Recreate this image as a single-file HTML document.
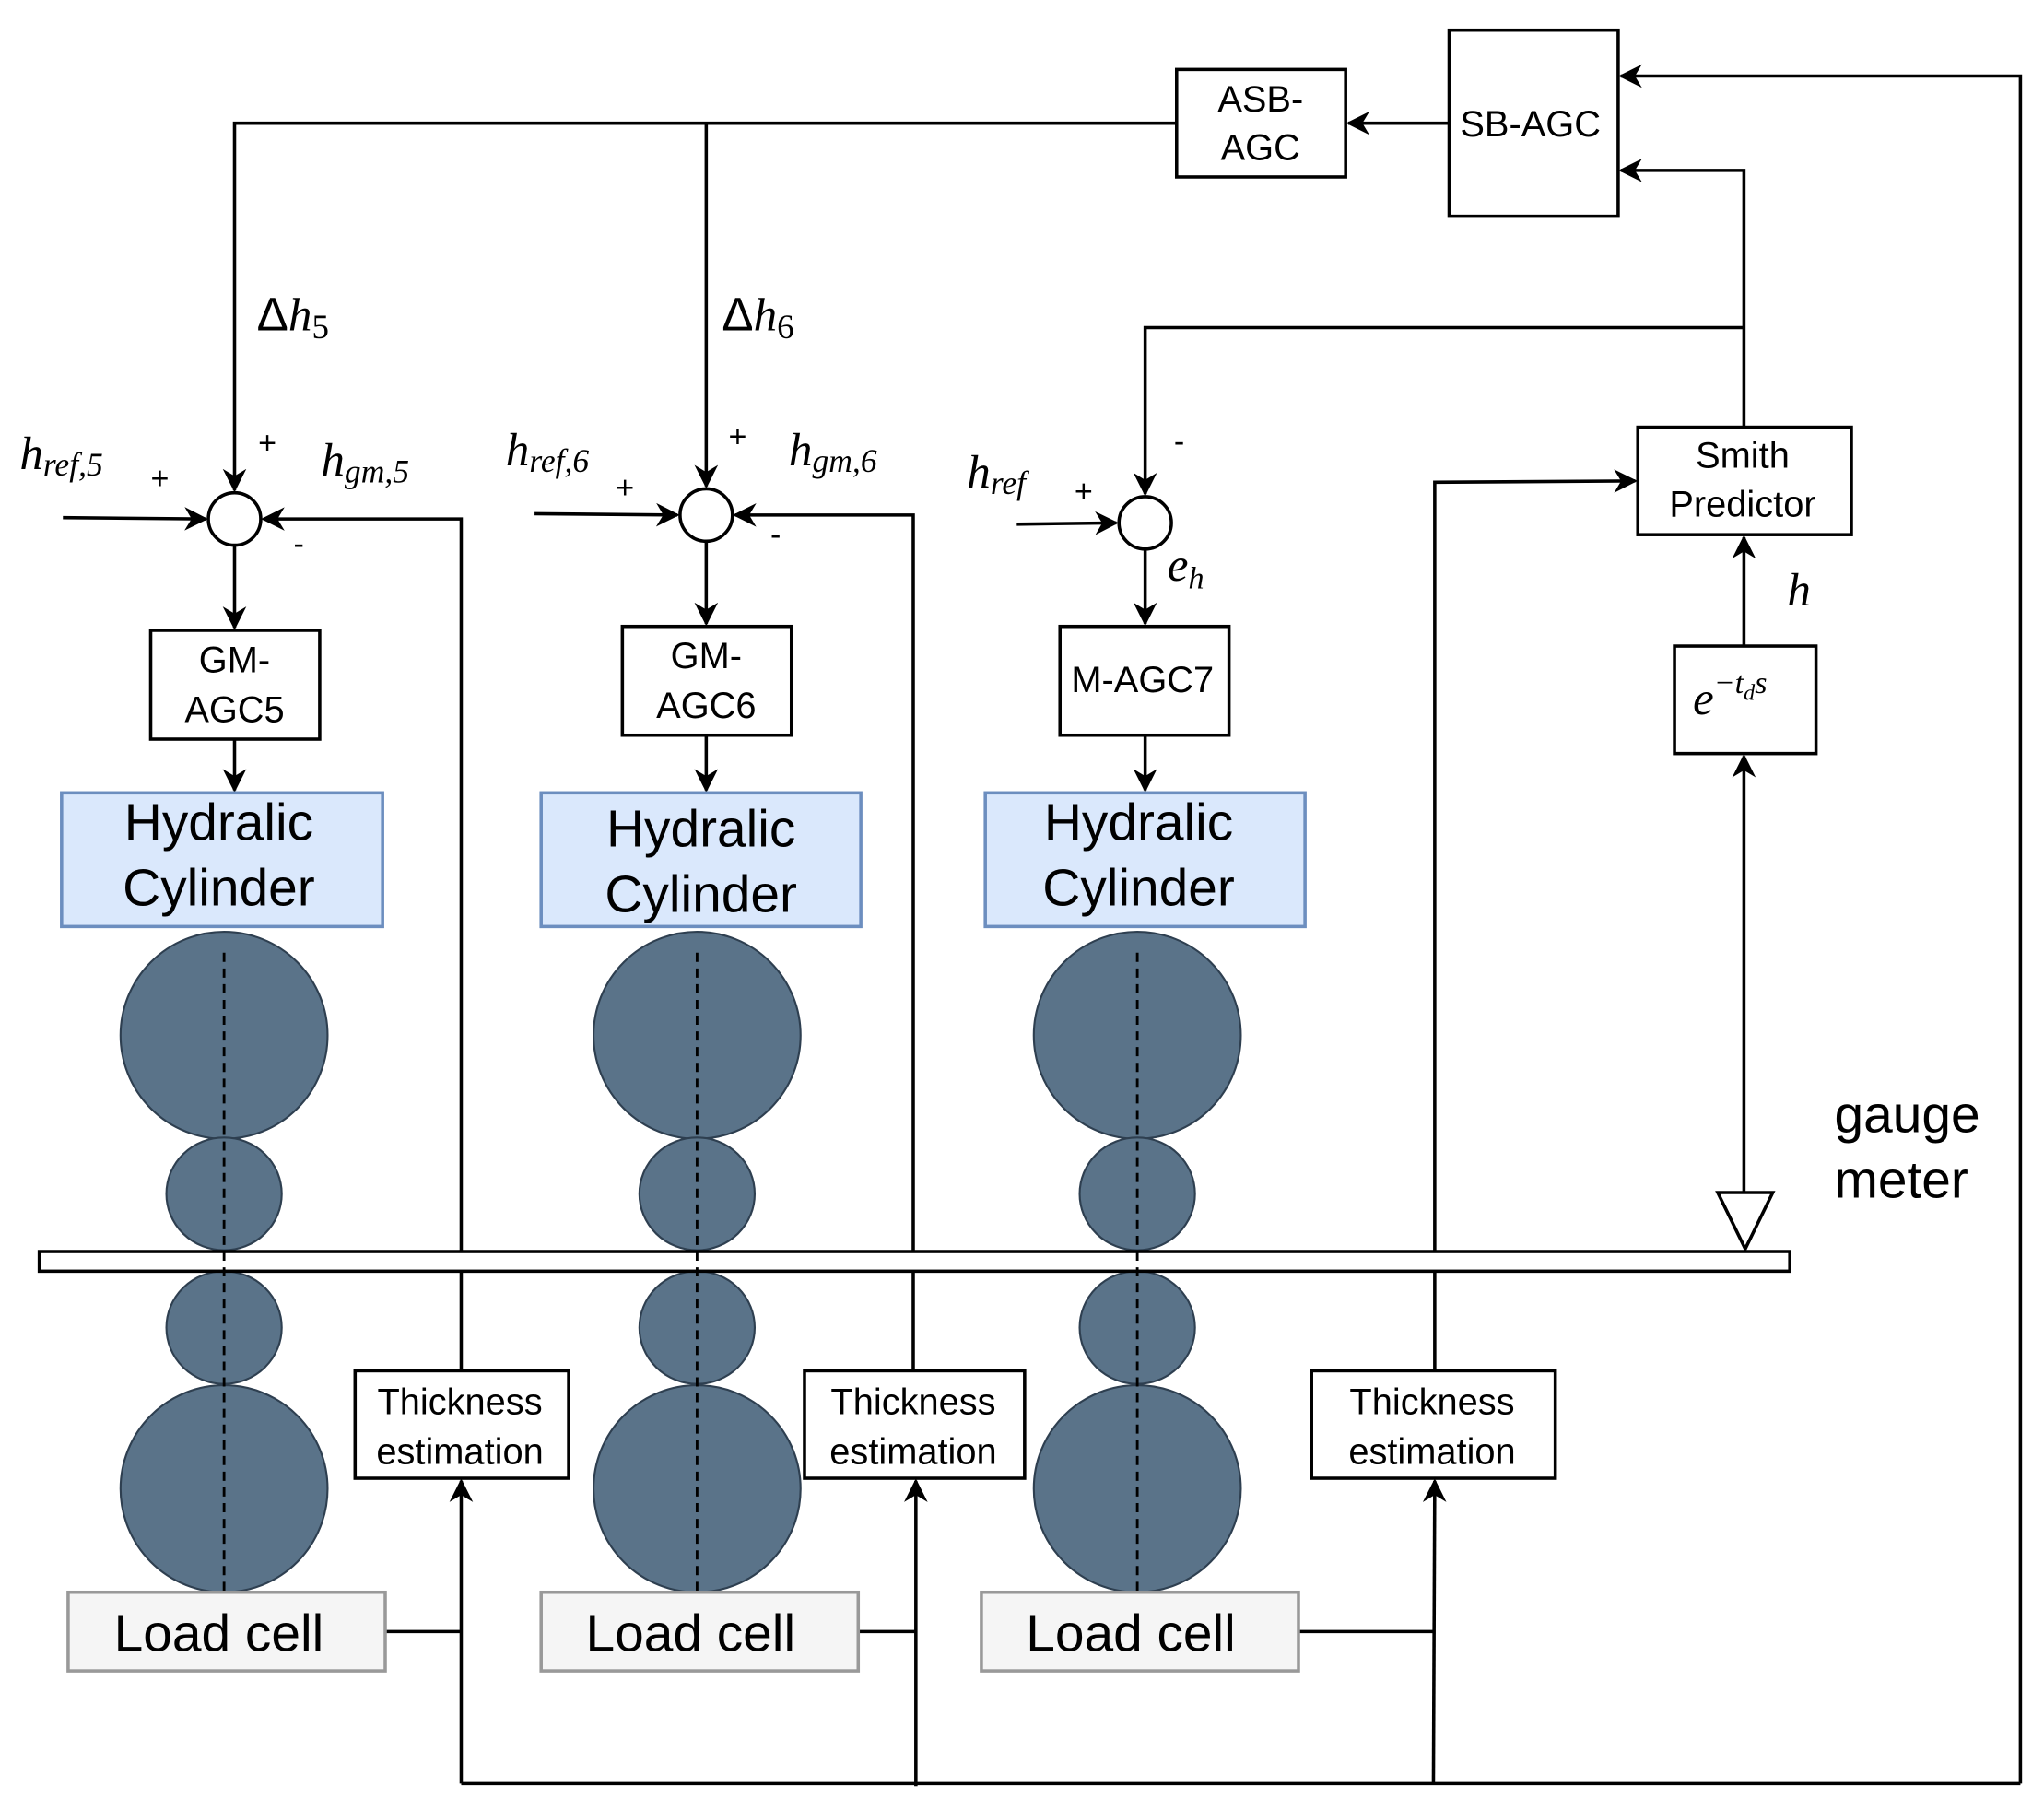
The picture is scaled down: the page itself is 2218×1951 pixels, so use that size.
<!DOCTYPE html>
<html><head><meta charset="utf-8"><style>
html,body{margin:0;padding:0;background:#fff;}
svg{display:block;}
text{font-family:"Liberation Sans",sans-serif;fill:#000;}
.m{font-family:"Liberation Serif",serif;font-style:italic;}
</style></head><body>
<svg width="2218" height="1951" viewBox="0 0 1560 1372" preserveAspectRatio="none" xmlns="http://www.w3.org/2000/svg">
<defs>
<marker id="b" viewBox="0 0 10 10" refX="9" refY="5" markerWidth="18" markerHeight="18" markerUnits="userSpaceOnUse" orient="auto">
<path d="M0,0 L10,5 L0,10 L3,5 z" fill="#000"/></marker>
</defs>
<g fill="none" stroke="#000" stroke-width="2.5">
<polyline points="898,94 179,94 179,374" marker-end="url(#b)"/>
<polyline points="539,94 539,371" marker-end="url(#b)"/>
<line x1="1106" y1="94" x2="1029" y2="94" marker-end="url(#b)"/>
<polyline points="1542,1361 1542,58 1237,58" marker-end="url(#b)"/>
<polyline points="1331,326 1331,130 1237,130" marker-end="url(#b)"/>
<polyline points="1331,250 874,250 874,377" marker-end="url(#b)"/>
<polyline points="1095,955 1095,368 1248,367" marker-end="url(#b)"/>
<line x1="1331" y1="493" x2="1331" y2="410" marker-end="url(#b)"/>
<line x1="1331" y1="910" x2="1331" y2="577" marker-end="url(#b)"/>
<line x1="48" y1="395" x2="157" y2="396" marker-end="url(#b)"/>
<line x1="408" y1="392" x2="517" y2="393" marker-end="url(#b)"/>
<line x1="776" y1="400" x2="852" y2="399" marker-end="url(#b)"/>
<polyline points="352,955 352,396 201,396" marker-end="url(#b)"/>
<polyline points="697,955 697,393 561,393" marker-end="url(#b)"/>
<line x1="179" y1="416" x2="179" y2="479" marker-end="url(#b)"/>
<line x1="539" y1="413" x2="539" y2="476" marker-end="url(#b)"/>
<line x1="874" y1="419" x2="874" y2="476" marker-end="url(#b)"/>
<line x1="179" y1="564" x2="179" y2="603" marker-end="url(#b)"/>
<line x1="539" y1="561" x2="539" y2="603" marker-end="url(#b)"/>
<line x1="874" y1="561" x2="874" y2="603" marker-end="url(#b)"/>
<polyline points="352,1361 1542,1361"/>
<line x1="352" y1="1361" x2="352" y2="1130" marker-end="url(#b)"/>
<line x1="699" y1="1363" x2="699" y2="1130" marker-end="url(#b)"/>
<line x1="1094" y1="1361" x2="1095" y2="1130" marker-end="url(#b)"/>
<line x1="352" y1="970" x2="352" y2="1046"/>
<line x1="697" y1="970" x2="697" y2="1046"/>
<line x1="1095" y1="970" x2="1095" y2="1046"/>
<line x1="294" y1="1245" x2="352" y2="1245"/>
<line x1="655" y1="1245" x2="699" y2="1245"/>
<line x1="991" y1="1245" x2="1095" y2="1245"/>
<rect x="898" y="53" width="129" height="82" fill="#fff"/>
<rect x="1106" y="23" width="129" height="142" fill="#fff"/>
<rect x="1250" y="326" width="163" height="82" fill="#fff"/>
<rect x="1278" y="493" width="108" height="82" fill="#fff"/>
<rect x="115" y="481" width="129" height="83" fill="#fff"/>
<rect x="475" y="478" width="129" height="83" fill="#fff"/>
<rect x="809" y="478" width="129" height="83" fill="#fff"/>
<rect x="271" y="1046" width="163" height="82" fill="#fff"/>
<rect x="614" y="1046" width="168" height="82" fill="#fff"/>
<rect x="1001" y="1046" width="186" height="82" fill="#fff"/>
<circle cx="179" cy="396" r="20" fill="#fff"/>
<circle cx="539" cy="393" r="20" fill="#fff"/>
<circle cx="874" cy="399" r="20" fill="#fff"/>
<polygon points="1311,910 1353,910 1332,953" fill="#fff"/>
</g>
<g fill="#dae8fc" stroke="#6c8ebf" stroke-width="2.5">
<rect x="47" y="605" width="245" height="102"/>
<rect x="413" y="605" width="244" height="102"/>
<rect x="752" y="605" width="244" height="102"/>
</g>
<g fill="#5a7389" stroke="#2e3f50" stroke-width="1.5">
<ellipse cx="171" cy="790" rx="79" ry="79"/><ellipse cx="171" cy="911" rx="44" ry="43"/>
<ellipse cx="171" cy="1013" rx="44" ry="43"/><ellipse cx="171" cy="1136" rx="79" ry="79"/>
<ellipse cx="532" cy="790" rx="79" ry="79"/><ellipse cx="532" cy="911" rx="44" ry="43"/>
<ellipse cx="532" cy="1013" rx="44" ry="43"/><ellipse cx="532" cy="1136" rx="79" ry="79"/>
<ellipse cx="868" cy="790" rx="79" ry="79"/><ellipse cx="868" cy="911" rx="44" ry="43"/>
<ellipse cx="868" cy="1013" rx="44" ry="43"/><ellipse cx="868" cy="1136" rx="79" ry="79"/>
</g>
<rect x="30" y="955" width="1336" height="15" fill="#fff" stroke="#000" stroke-width="2.5"/>
<g stroke="#000" stroke-width="2" stroke-dasharray="7,5">
<line x1="171" y1="727" x2="171" y2="1225"/>
<line x1="532" y1="727" x2="532" y2="1225"/>
<line x1="868" y1="727" x2="868" y2="1225"/>
</g>
<g fill="#f5f5f5" stroke="#999" stroke-width="2.5">
<rect x="52" y="1215" width="242" height="60"/>
<rect x="413" y="1215" width="242" height="60"/>
<rect x="749" y="1215" width="242" height="60"/>
</g>
<g font-size="28" text-anchor="middle">
<text x="962" y="85">ASB-</text><text x="962" y="122">AGC</text>
<text x="1168" y="104">SB-AGC</text>
<text x="1330" y="357">Smith</text><text x="1330" y="394">Predictor</text>
<text x="179" y="513">GM-</text><text x="179" y="551">AGC5</text>
<text x="539" y="510">GM-</text><text x="539" y="548">AGC6</text>
<text x="872" y="528">M-AGC7</text>
<text x="351" y="1079">Thickness</text><text x="351" y="1117">estimation</text>
<text x="697" y="1079">Thickness</text><text x="697" y="1117">estimation</text>
<text x="1093" y="1079">Thickness</text><text x="1093" y="1117">estimation</text>
</g>
<g font-size="40" text-anchor="middle">
<text x="167" y="641">Hydralic</text><text x="167" y="691">Cylinder</text>
<text x="535" y="646">Hydralic</text><text x="535" y="696">Cylinder</text>
<text x="869" y="641">Hydralic</text><text x="869" y="691">Cylinder</text>
<text x="167" y="1260">Load cell</text>
<text x="527" y="1260">Load cell</text>
<text x="863" y="1260">Load cell</text>
</g>
<text x="1400" y="864" font-size="40">gauge</text>
<text x="1400" y="914" font-size="40">meter</text>
<g font-size="24">
<text x="115" y="373">+</text><text x="197" y="346">+</text><text x="224" y="423">-</text>
<text x="470" y="380">+</text><text x="556" y="341">+</text><text x="588" y="416">-</text>
<text x="820" y="383">+</text><text x="896" y="345">-</text>
</g>
<g font-size="36">
<text x="196" y="252" font-family="Liberation Serif">Δ<tspan class="m">h</tspan><tspan font-size="26" dy="6" font-family="Liberation Serif">5</tspan></text>
<text x="551" y="252" font-family="Liberation Serif">Δ<tspan class="m">h</tspan><tspan font-size="26" dy="6" font-family="Liberation Serif">6</tspan></text>
<text x="15" y="358" class="m">h<tspan font-size="25" dy="5">ref,5</tspan></text>
<text x="245" y="363" class="m">h<tspan font-size="25" dy="5">gm,5</tspan></text>
<text x="386" y="355" class="m">h<tspan font-size="25" dy="5">ref,6</tspan></text>
<text x="602" y="355" class="m">h<tspan font-size="25" dy="5">gm,6</tspan></text>
<text x="738" y="372" class="m">h<tspan font-size="25" dy="5">ref</tspan></text>
<text x="891" y="443" class="m">e<tspan font-size="24" dy="6">h</tspan></text>
<text x="1364" y="462" class="m">h</text>
<text x="1292" y="545" class="m">e<tspan font-size="24" dy="-16">−t<tspan font-size="17" dy="5">d</tspan><tspan dy="-5">s</tspan></tspan></text>
</g>
</svg>
</body></html>
